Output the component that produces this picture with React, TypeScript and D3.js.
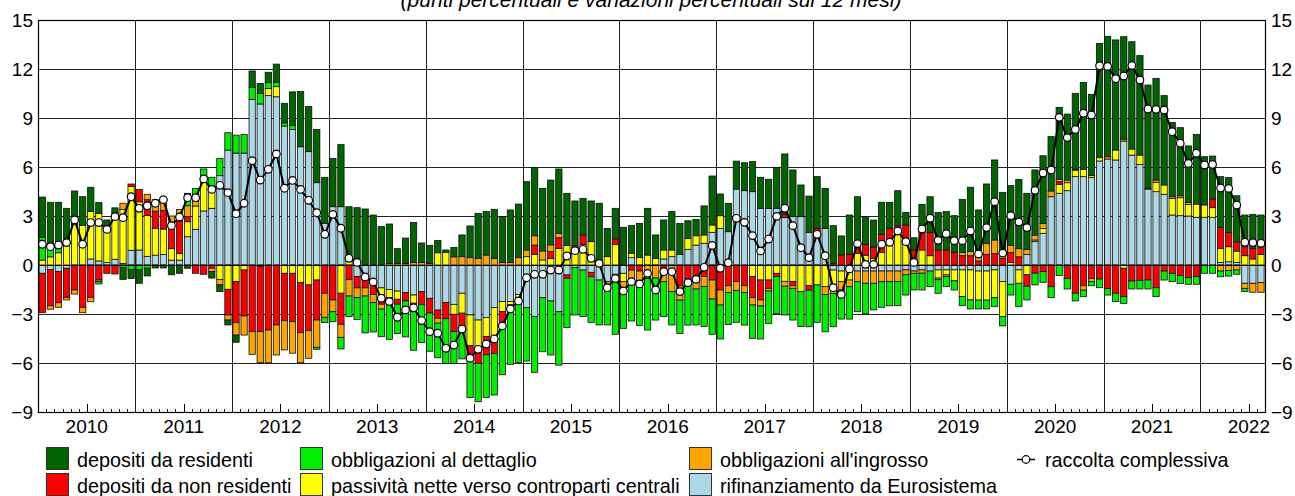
import { useEffect, useRef } from "react";
import * as d3 from "d3";

// anni sull'asse x (gennaio 2010 - agosto 2022, dati mensili)
const years = ["2010", "2011", "2012", "2013", "2014", "2015", "2016", "2017", "2018", "2019", "2020", "2021", "2022"];
const yTicks = [15, 12, 9, 6, 3, 0, -3, -6, -9];

// contributi (punti percentuali)
const rifinanziamento = [
  -0.51, -0.27, -0.41, -0.2, 0, 0, 0.37, 0.25, 0.15, 0.35, 0.1, 0.9,
  0.92, 0.53, 0.6, 0.65, 0.3, 0.3, 1.73, 2.18, 3.31, 3.47, 5.47, 7.04,
  6.85, 6.85, 10.14, 9.86, 10.37, 10.3, 8.51, 8.3, 7.24, 6.94, 5.04, 2.55,
  3.57, 3.57, 0, -0.7, -0.9, -1.0, -1.4, -1.5, -1.6, -1.7, -1.84, -1.63,
  -2.04, -2.76, -2.29, -2.41, -1.73, -3.06, -3.37, -3.22, -2.61, -2.24, -2.24, -1.8,
  -2.61, -3.16, -2.0, -2.2, -2.86, -0.61, -0.16, -0.31, -0.45, -0.92, -1.02, -0.57,
  -0.51, 0.45, 0, 0, 0, 0.37, 0.51, 0.65, 0.96, 1.22, 1.33, 2.0,
  2.24, 2.04, 4.65, 4.55, 4.49, 3.47, 3.47, 3.47, 2.9, 2.96, 2.96, 2.0,
  2.04, 2.24, -0.31, -0.37, -0.31, -0.37, -0.37, -0.37, -0.37, -0.37, -0.37, -0.3,
  -0.37, -0.3, -0.37, -0.3, -0.3, -0.3, -0.3, -0.3, -0.37, -0.37, -0.3, -1.02,
  -1.18, -0.3, 0.65, 1.43, 1.94, 4.18, 4.39, 4.55, 5.41, 5.41, 5.35, 6.37,
  6.49, 6.43, 7.59, 6.73, 6.16, 4.65, 4.49, 4.33, 3.06, 3.02, 3.0, 2.92,
  2.92, 2.92, 0.16, 0.2, 0.16, -1.12, -1.12, -1.08,
];
const passivitaCcp = [
  0.3, 0.5, 0.75, 1.5, 2.5, 2.43, 2.9, 2.91, 1.9, 2.85, 3.3, 3.9,
  2.95, 2.5, 1.65, 1.55, 0.7, 0.4, 0.92, 1.43, 2.1, 1.3, -0.88, -1.49,
  -1.02, -0.31, 0, -0.1, 0.43, 0.62, -0.51, -0.51, -1.08, -1.22, -0.92, 0,
  0, -1.73, 0.3, 0, 0, 0, -0.4, -0.5, -0.5, 0, -0.5, 0,
  0, 0.75, 0.78, -0.61, -1.22, -1.88, -1.63, -1.16, -1.78, -0.61, -0.2, -0.2,
  0.51, 0.65, 0.31, 0.41, 1.02, 1.2, 1.06, 1.27, 1.43, 0, 0.51, 1.27,
  -0.51, 0.27, 0.45, 0.61, 0.4, 0.55, 0.41, 0, 0.67, 0.57, 0.51, 0.45,
  0.78, 0, 0, 0, -0.71, -0.92, -0.92, -0.51, -1.0, -1.02, -1.63, -1.27,
  -1.22, -1.33, -0.92, -0.65, -0.61, 0.71, 0.6, 0.4, 0.78, 1.33, 2.24, 1.43,
  0, 0.92, 0.57, -0.5, -0.3, -0.67, -1.63, -1.84, -1.78, -1.78, -1.7, -2.14,
  0.16, -0.82, -0.6, 0.1, 0.3, 0, 0.55, 0.49, 0.4, 0.45, 0.12, 0.2,
  0, 0.61, -0.2, 0.37, 0.57, 0.05, 0.57, 0.57, 1.02, 1.1, 0.71, 0.81,
  0.76, 0.59, 0.86, 0.92, 0.69, 0.57, 0.37, 0.65,
];
const depositiNonResidenti = [
  -2.41, -2.23, -1.9, -1.78, -1.53, -2.59, -1.98, -0.92, -0.51, -0.55, 0, 0.16,
  0.76, 0.97, 1.05, 1.15, 1.5, 2.0, 0.31, -0.51, -0.57, -0.2, 0, -1.57,
  -2.51, -2.81, -4.08, -3.98, -3.98, -3.67, -2.9, -2.96, -3.06, -2.8, -2.45, -1.73,
  -2.14, -1.9, -0.9, -0.7, -0.5, -0.8, -0.6, -0.4, -0.3, -0.5, -0.5, -0.8,
  -0.9, -0.5, -1.0, -1.06, -0.76, -0.53, -1.02, -1.12, -1.02, -0.71, -0.31, -0.24,
  0, 0.57, 0, 0.41, 0.65, -0.2, 0.12, 0.57, -0.27, 0, 0, 0.33,
  0, -0.31, -0.37, 0, 0, -0.41, 0, -1.27, -0.82, -1.02, -0.71, -0.92,
  -1.53, -1.27, -1.02, -1.27, -1.29, -1.22, -0.51, -0.2, 0.2, -0.25, 0, -0.27,
  0.2, 0, 0.1, 0.61, 0.65, 0.55, 0.65, 0.7, 1.1, 0.91, 0.17, 1.02,
  0.92, 1.32, 1.43, 0.92, 0.92, 0.78, 0.57, 0.57, 0.25, 0.65, 0.71, 0.4,
  0.6, 0.5, -0.7, -0.5, -0.4, -1.33, 0.16, -0.82, -1.73, -1.27, -0.82, -0.86,
  -1.45, -1.73, -1.73, -0.98, -0.94, -0.92, -1.39, -0.37, -0.51, -0.65, -0.78, -0.71,
  0, 0.53, 1.27, 0.88, 0.57, 0.55, 0.65, 0.47,
];
const obbligazioniIngrosso = [
  0, -0.21, -0.28, -0.16, -0.25, -0.33, -0.27, -0.1, 0, 0, 0.38, 0,
  0, 0.33, 0.7, 0.75, 0.5, 0.7, 0.67, 0.31, 0, -0.2, -0.34, -0.31,
  -0.76, -1.17, -1.39, -1.9, -2.0, -1.84, -1.79, -1.93, -1.84, -1.69, -1.67, -1.47,
  -0.72, -0.8, -1.0, -0.6, -0.5, -0.5, -0.3, 0.1, 0.1, 0.1, 0.15, 0.15,
  0.1, -0.3, 0, 0.5, 0.51, 0.45, 0.41, 0.61, 0.41, 0.16, 0.16, 0.45,
  0.41, 0.57, 0.55, 0.41, 0.27, 0, 0, 0, 0, 0.16, -0.31, -0.45,
  -0.41, -0.51, -0.61, -0.82, -0.8, -0.61, -1.63, -0.88, -0.31, -0.45, -0.61, -1.16,
  -0.92, -0.41, -0.55, -0.41, -0.45, -0.37, -0.16, 0, -0.3, -0.16, 0, 0,
  0, -0.47, -0.51, -0.51, -0.41, -0.65, -0.75, -0.75, -0.65, -0.65, -0.65, -0.3,
  -0.14, -0.2, 0, -0.1, -0.1, 0, 0.2, 0.25, 0.25, 0.68, 0.82, 0.3,
  0.45, 0.5, 0.3, 0.3, 0.31, 0.35, 0.15, 0.16, 0.06, -0.27, -0.2, 0,
  0.14, 0, 0.12, 0, 0, 0, 0.14, 0, 0.1, 0.12, 0.12, 0,
  0, 0, -0.37, -0.33, -0.3, -0.31, -0.55, -0.59,
];
const obbligazioniDettaglio = [
  1.4, 0.6, 0.45, 0.15, 0, 0, 0, -0.14, 0, 0, -0.16, -0.27,
  -0.3, -0.2, 0, 0, 0, 0, 0.76, 0.77, 0.47, 0.6, 1.06, 1.06,
  1.1, 1.15, 0.74, 0.64, 0.36, 0.28, 0.19, 0.25, 0, 0, -0.12, -0.33,
  -0.61, -0.71, -1.26, -1.34, -2.26, -1.8, -1.69, -2.15, -1.8, -2.2, -2.38, -2.32,
  -2.34, -2.12, -2.73, -1.94, -2.04, -2.65, -2.35, -2.61, -2.55, -3.16, -3.33, -3.72,
  -3.27, -3.41, -3.31, -3.31, -3.27, -3.02, -2.9, -2.85, -2.79, -2.75, -2.34, -3.22,
  -2.45, -2.61, -2.73, -3.16, -2.57, -2.14, -2.04, -2.04, -2.55, -2.2, -2.45, -2.16,
  -2.08, -1.96, -1.94, -2.0, -2.04, -2.02, -1.98, -2.25, -1.76, -1.94, -2.14, -2.24,
  -2.29, -2.29, -2.04, -1.78, -1.98, -1.84, -1.85, -1.63, -1.57, -1.48, -1.47, -1.24,
  -1.02, -1.03, -0.96, -0.83, -0.63, -0.56, -0.56, -0.55, -0.54, -0.54, -0.55, -0.57,
  -0.66, -1.43, -0.84, -0.72, -0.66, -0.67, -0.65, -0.65, -0.47, -0.4, -0.25, -0.53,
  -0.39, -0.51, -0.42, -0.49, -0.53, -0.55, -0.55, -0.55, -0.51, -0.49, -0.4, -0.47,
  -0.51, -0.51, -0.35, -0.35, -0.27, -0.2, 0, 0,
];
const depositiResidenti = [
  2.46, 2.74, 2.64, 1.82, 2.03, 1.75, 1.49, 0.66, 0.71, 0.3, -0.72, -0.55,
  -0.82, -0.47, -0.18, -0.18, -0.6, -0.51, -0.2, 0, 0, -0.4, -0.41, -0.3,
  -0.44, 0, 1.0, 0.62, 0.64, 1.1, 1.2, 2.05, 3.38, 2.76, 3.26, 2.82,
  2.96, 3.8, 3.27, 3.51, 3.43, 3.06, 2.35, 2.41, 0.9, 1.55, 2.45, 1.2,
  1.1, 0.75, 0.14, 0.58, 1.33, 1.94, 2.75, 2.66, 3.0, 2.8, 3.21, 3.28,
  4.18, 4.17, 3.83, 3.97, 3.94, 3.19, 2.74, 2.24, 2.49, 3.62, 1.73, 1.87,
  2.31, 1.69, 2.1, 2.86, 1.44, 1.84, 2.35, 1.9, 1.08, 1.0, 1.78, 3.0,
  1.33, 1.73, 1.71, 1.71, 1.84, 1.9, 1.78, 2.51, 3.7, 2.86, 1.94, 2.22,
  3.17, 2.45, 2.31, 1.17, 2.41, 2.92, 1.7, 1.65, 1.96, 1.6, 2.14, 0.77,
  0.75, 1.47, 2.18, 2.3, 2.35, 2.24, 3.25, 3.94, 2.87, 3.63, 4.9, 3.75,
  3.65, 4.24, 3.44, 3.99, 4.14, 3.33, 4.4, 4.04, 4.64, 5.32, 4.98, 7.0,
  7.37, 6.74, 6.27, 6.57, 6.09, 6.32, 6.23, 5.47, 4.55, 4.17, 3.46, 4.27,
  2.95, 2.63, 3.12, 3.35, 2.82, 1.94, 2.08, 1.94,
];
// variazione percentuale sui 12 mesi
const raccoltaComplessiva = [
  1.27, 1.12, 1.22, 1.37, 2.76, 1.27, 2.6, 2.6, 2.18, 2.96, 2.9, 4.18,
  3.47, 3.63, 3.78, 4.0, 2.41, 2.94, 4.12, 4.12, 5.27, 4.63, 4.88, 4.43,
  3.14, 3.78, 6.39, 5.2, 5.86, 6.8, 4.7, 5.18, 4.63, 3.96, 3.2, 1.88,
  3.1, 2.25, 0.41, 0.16, -0.73, -1.04, -2.04, -2.24, -3.2, -2.75, -2.62, -3.4,
  -4.08, -4.18, -5.1, -4.9, -3.92, -5.71, -5.16, -4.84, -4.53, -3.73, -2.69, -2.2,
  -0.78, -0.57, -0.57, -0.31, -0.31, 0.55, 0.88, 0.96, 0.41, 0.1, -1.39, -0.82,
  -1.59, -1.02, -1.16, -0.51, -1.53, -0.41, -0.41, -1.63, -1.08, -0.88, -0.14, 1.2,
  -0.2, 0.14, 2.86, 2.61, 1.8, 0.86, 1.59, 2.98, 3.47, 2.41, 1.06, 0.45,
  1.88, 0.57, -1.39, -1.8, -0.24, 1.31, 0.04, 0.04, 1.27, 1.39, 2.08, 1.43,
  0.16, 2.2, 2.86, 1.51, 1.92, 1.49, 1.49, 2.08, 0.67, 2.29, 3.88, 0.73,
  3.02, 2.63, 2.29, 4.57, 5.63, 5.82, 9.04, 7.8, 8.3, 9.29, 9.18, 12.2,
  12.16, 11.41, 11.57, 12.22, 11.33, 9.55, 9.53, 9.49, 8.16, 7.45, 6.22, 6.84,
  6.12, 6.16, 4.71, 4.69, 3.67, 1.39, 1.37, 1.33,
];

// ordine di impilamento (dallo zero verso l'esterno)
const series = [
  { key: "rif", label: "rifinanziamento da Eurosistema", color: "#add8e6", values: rifinanziamento },
  { key: "ccp", label: "passività nette verso controparti centrali", color: "#ffff00", values: passivitaCcp },
  { key: "dnr", label: "depositi da non residenti", color: "#ff0000", values: depositiNonResidenti },
  { key: "ing", label: "obbligazioni all'ingrosso", color: "#ffa500", values: obbligazioniIngrosso },
  { key: "det", label: "obbligazioni al dettaglio", color: "#00ee00", values: obbligazioniDettaglio },
  { key: "dr", label: "depositi da residenti", color: "#006400", values: depositiResidenti },
];

// legenda: [chiave, colonna x, riga]
const legendItems: [string, number, number][] = [
  ["dr", 46, 0], ["dnr", 46, 1],
  ["det", 300, 0], ["ccp", 300, 1],
  ["ing", 689, 0], ["rif", 689, 1],
];

const font = "'Liberation Sans', Arial, sans-serif";

function App() {
  const svgRef = useRef<SVGSVGElement | null>(null);
  const width = 1295;
  const height = 496;
  const left = 38.3;
  const right = 1265;
  const top = 20;
  const bottom = 412;

  useEffect(() => {
    const svg = d3.select(svgRef.current);
    svg.selectAll("*").remove();
    const n = raccoltaComplessiva.length;

    const yScale = d3.scaleLinear().domain([-9, 15]).range([bottom, top]);
    const xm = d3.scaleLinear().domain([0, n]).range([left, right]);
    const xBand = d3
      .scaleBand<number>()
      .domain(d3.range(n))
      .range([left, right])
      .paddingInner(0.22)
      .paddingOuter(0.11);

    const rows = d3.range(n).map((i) => {
      const r: Record<string, number> = {};
      series.forEach((s) => (r[s.key] = s.values[i]));
      return r;
    });
    const stacked = d3
      .stack<Record<string, number>>()
      .keys(series.map((s) => s.key))
      .offset(d3.stackOffsetDiverging)(rows);

    const crisp = (v: number) => Math.round(v) + 0.5;

    // griglia orizzontale
    yTicks.forEach((t) => {
      svg
        .append("line")
        .attr("x1", left)
        .attr("x2", right)
        .attr("y1", crisp(yScale(t)))
        .attr("y2", crisp(yScale(t)))
        .attr("stroke", "#222")
        .attr("stroke-width", 1);
    });

    // linee verticali ad ogni inizio anno
    for (let k = 12; k < n; k += 12) {
      svg
        .append("line")
        .attr("x1", crisp(xm(k)))
        .attr("x2", crisp(xm(k)))
        .attr("y1", top)
        .attr("y2", bottom)
        .attr("stroke", "#222")
        .attr("stroke-width", 1);
    }

    // barre
    stacked.forEach((layer, li) => {
      svg
        .append("g")
        .selectAll("rect")
        .data(layer)
        .join("rect")
        .attr("x", (_d, i) => xBand(i) as number)
        .attr("width", xBand.bandwidth())
        .attr("y", (d) => yScale(Math.max(d[0], d[1])))
        .attr("height", (d) => Math.abs(yScale(d[0]) - yScale(d[1])))
        .attr("fill", series[li].color)
        .attr("stroke", "#111")
        .attr("stroke-width", 0.8)
        .attr("display", (d) => (Math.abs(d[1] - d[0]) < 1e-9 ? "none" : null));
    });

    // linea dello zero
    svg
      .append("line")
      .attr("x1", left)
      .attr("x2", right)
      .attr("y1", crisp(yScale(0)))
      .attr("y2", crisp(yScale(0)))
      .attr("stroke", "#000")
      .attr("stroke-width", 1);

    // raccolta complessiva
    const line = d3
      .line<number>()
      .x((_d, i) => (xBand(i) as number) + xBand.bandwidth() / 2)
      .y((d) => yScale(d));
    svg
      .append("path")
      .attr("d", line(raccoltaComplessiva) as string)
      .attr("fill", "none")
      .attr("stroke", "#000")
      .attr("stroke-width", 2);
    svg
      .append("g")
      .selectAll("circle")
      .data(raccoltaComplessiva)
      .join("circle")
      .attr("cx", (_d, i) => (xBand(i) as number) + xBand.bandwidth() / 2)
      .attr("cy", (d) => yScale(d))
      .attr("r", 3.8)
      .attr("fill", "#fff")
      .attr("stroke", "#000")
      .attr("stroke-width", 1.2);

    // cornice
    svg
      .append("rect")
      .attr("x", crisp(left))
      .attr("y", crisp(top))
      .attr("width", Math.round(right) - Math.round(left))
      .attr("height", bottom - top)
      .attr("fill", "none")
      .attr("stroke", "#000")
      .attr("stroke-width", 1.2);

    // tacche mensili sull'asse x
    for (let k = 1; k < n; k++) {
      if (k % 12 === 0) continue;
      const len = k % 12 === 6 ? 8 : 3;
      svg
        .append("line")
        .attr("x1", crisp(xm(k)))
        .attr("x2", crisp(xm(k)))
        .attr("y1", bottom)
        .attr("y2", bottom - len)
        .attr("stroke", "#000")
        .attr("stroke-width", 1);
    }

    // etichette anni
    years.forEach((y, i) => {
      svg
        .append("text")
        .attr("x", xm(i * 12 + 6))
        .attr("y", 433)
        .attr("text-anchor", "middle")
        .attr("font-family", font)
        .attr("font-size", 19)
        .attr("fill", "#000")
        .text(y);
    });

    // etichette asse y (sinistra e destra)
    const fmt = (t: number) => (t < 0 ? "\u2212" + Math.abs(t) : String(t));
    yTicks.forEach((t) => {
      svg
        .append("text")
        .attr("x", 33)
        .attr("y", yScale(t))
        .attr("dy", "0.35em")
        .attr("text-anchor", "end")
        .attr("font-family", font)
        .attr("font-size", 19)
        .text(fmt(t));
      svg
        .append("text")
        .attr("x", 1271)
        .attr("y", yScale(t))
        .attr("dy", "0.35em")
        .attr("text-anchor", "start")
        .attr("font-family", font)
        .attr("font-size", 19)
        .text(fmt(t));
    });

    // titolo (tagliato in alto come nell'originale)
    svg
      .append("text")
      .attr("x", 651)
      .attr("y", 7)
      .attr("text-anchor", "middle")
      .attr("font-family", font)
      .attr("font-style", "italic")
      .attr("font-size", 21)
      .text("(punti percentuali e variazioni percentuali sui 12 mesi)");

    // legenda
    legendItems.forEach(([key, lx, row]) => {
      const s = series.find((d) => d.key === key)!;
      const ly = 447.5 + row * 26;
      svg
        .append("rect")
        .attr("x", lx + 0.5)
        .attr("y", ly)
        .attr("width", 22)
        .attr("height", 22)
        .attr("fill", s.color)
        .attr("stroke", "#333")
        .attr("stroke-width", 1);
      svg
        .append("text")
        .attr("x", lx + 31)
        .attr("y", ly + 19)
        .attr("font-family", font)
        .attr("font-size", 19.8)
        .text(s.label);
    });
    svg
      .append("line")
      .attr("x1", 1017)
      .attr("x2", 1035)
      .attr("y1", 459.5)
      .attr("y2", 459.5)
      .attr("stroke", "#000")
      .attr("stroke-width", 1.5);
    svg
      .append("circle")
      .attr("cx", 1026)
      .attr("cy", 459.5)
      .attr("r", 3.8)
      .attr("fill", "#fff")
      .attr("stroke", "#000")
      .attr("stroke-width", 1.2);
    svg
      .append("text")
      .attr("x", 1045)
      .attr("y", 466.5)
      .attr("font-family", font)
      .attr("font-size", 19.8)
      .text("raccolta complessiva");
  }, []);

  return (
    <svg
      ref={svgRef}
      width={width}
      height={height}
      style={{ position: "absolute", left: 0, top: 0, background: "#fff" }}
    ></svg>
  );
}

export default App;
